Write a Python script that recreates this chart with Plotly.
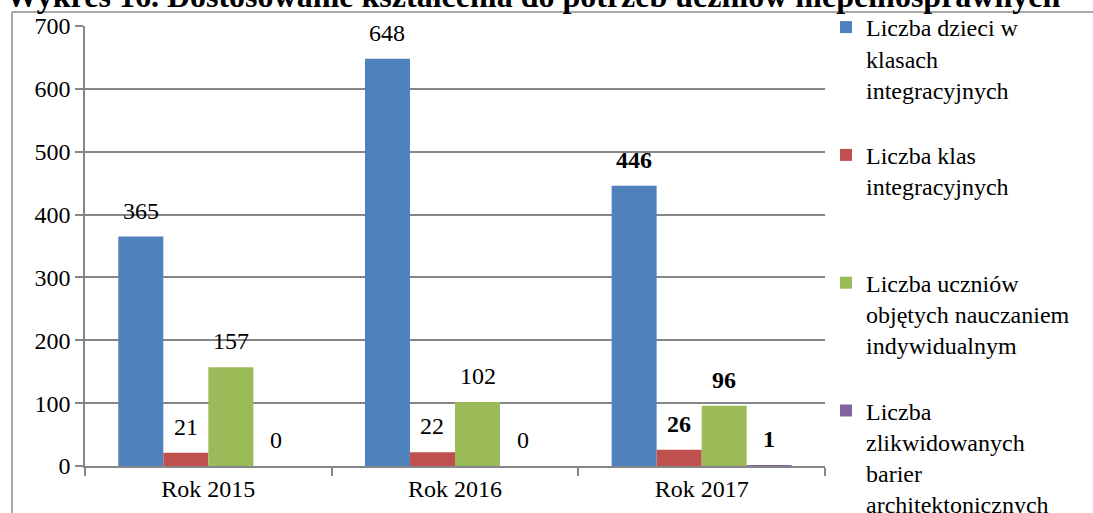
import plotly.graph_objects as go

categories = ["Rok 2015", "Rok 2016", "Rok 2017"]
series_names = [
    "Liczba dzieci w<br>klasach<br>integracyjnych",
    "Liczba klas<br>integracyjnych",
    "Liczba uczniów<br>objętych nauczaniem<br>indywidualnym",
    "Liczba<br>zlikwidowanych<br>barier<br>architektonicznych",
]
dzieci = [365, 648, 446]
klasy = [21, 22, 26]
uczniowie = [157, 102, 96]
bariery = [0, 0, 1]
bold_labels = [False, False, True]
colors = ["#4F81BD", "#C0504D", "#9BBB59", "#8064A2"]
title_text = "Wykres 16. Dostosowanie kształcenia do potrzeb uczniów niepełnosprawnych"

FONT = "Liberation Serif"
W, H = 1093, 513
L, R, T, B = 85, 268, 26, 47
bargap = 0.27

series = [dzieci, klasy, uczniowie, bariery]
legend_names = []
for n in series_names:
    lines = n.count("<br>") + 1
    legend_names.append(n + "<br> " * (4 - lines))

fig = go.Figure()
for name, vals, col in zip(legend_names, series, colors):
    fig.add_trace(go.Bar(
        x=categories, y=vals, name=name,
        marker=dict(color=col, line=dict(width=0)),
    ))

pw = W - L - R
ph = H - T - B

n = len(series)
wtot = 1 - bargap
annotations = []
for si, vals in enumerate(series):
    off = -wtot / 2 + (si + 0.5) * wtot / n
    for ci, v in enumerate(vals):
        txt = f"<b>{v}</b>" if bold_labels[ci] else str(v)
        annotations.append(dict(
            x=ci + off, y=v, xref="x", yref="y", text=txt, showarrow=False,
            yanchor="middle", yshift=26,
            font=dict(family=FONT, size=24, color="black"),
        ))

# title (partly cut off at the top edge, as in the reference)
annotations.append(dict(
    x=(533 - L) / pw, y=(H - B - 16) / ph, xref="paper", yref="paper",
    xanchor="center", yanchor="bottom", showarrow=False,
    text=f"<b>{title_text}</b>",
    font=dict(family=FONT, size=32, color="black"),
))

shapes = [
    dict(type="line", xref="paper", yref="paper",
         x0=(12 - L) / pw, x1=(W + 5 - L) / pw, y0=(H - B - 12) / ph, y1=(H - B - 12) / ph,
         line=dict(color="#8C8C8C", width=1.5)),
    dict(type="line", xref="paper", yref="paper",
         x0=(12 - L) / pw, x1=(12 - L) / pw, y0=(H - B - 12) / ph, y1=-B / ph - 0.05,
         line=dict(color="#8C8C8C", width=1.5)),
]

fig.update_layout(
    width=W, height=H,
    margin=dict(l=L, r=R, t=T, b=B, pad=0, autoexpand=False),
    paper_bgcolor="white", plot_bgcolor="white",
    barmode="group", bargap=bargap, bargroupgap=0,
    font=dict(family=FONT, size=24, color="black"),
    legend=dict(x=(826 - L) / pw, xanchor="left", y=(H - B - 5) / ph, yanchor="top",
                font=dict(family=FONT, size=24, color="black"),
                valign="top", traceorder="normal", bgcolor="rgba(0,0,0,0)",
                itemclick=False),
    showlegend=True,
    annotations=annotations,
    shapes=shapes,
    xaxis=dict(type="category", showgrid=False, showline=True, linecolor="#868686",
               linewidth=1.5, ticks="outside", tickson="boundaries", ticklen=8,
               tickcolor="#868686", tickwidth=1.5,
               tickfont=dict(family=FONT, size=24), zeroline=False),
    yaxis=dict(range=[0, 700], dtick=100, showgrid=True, gridcolor="#868686",
               gridwidth=1.5, showline=True, linecolor="#868686", linewidth=1.5,
               ticks="outside", ticklen=8, tickcolor="#868686", tickwidth=1.5,
               tickfont=dict(family=FONT, size=24), zeroline=False),
)
try:
    fig.update_layout(legend_maxheight=2000)
except Exception:
    pass

fig.write_html("out.html",
               config={"displayModeBar": False},
               post_script="document.body.style.margin='0';document.body.style.overflow='hidden';")
